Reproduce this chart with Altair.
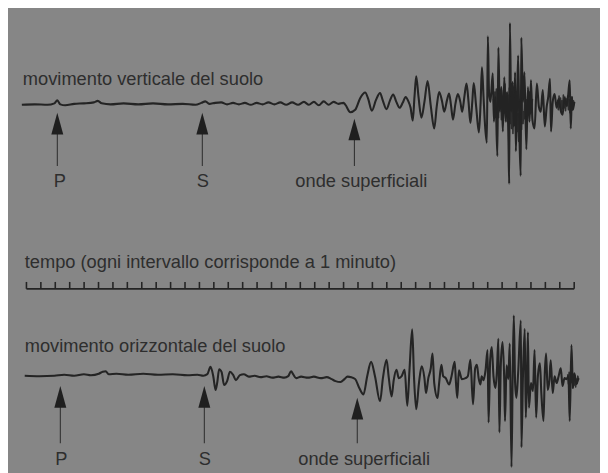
import altair as alt
import pandas as pd

# ---------------- data (time in minutes from the first tick of the time bar) ----------------
# vertical ground motion: time (min) and amplitude (positive = up)
V_T = [-0.32, 0.57, 1.46, 1.94, 2.14, 2.35, 2.69, 3.31, 3.99, 4.68, 4.95, 5.22, 5.84, 6.73, 7.76,
       8.78, 9.81, 10.84, 11.73, 12.14, 12.41, 12.68, 13.09, 13.51, 13.92, 14.33, 14.74, 15.15,
       15.56, 15.97, 16.38, 16.79, 17.20, 17.61, 18.02, 18.43, 18.84, 19.25, 19.60, 19.94, 20.28,
       20.62, 20.97, 21.31, 21.65, 22.00,
       22.13, 22.47, 22.81, 23.16, 23.50, 23.71, 23.96, 24.25, 24.53, 24.73, 24.98, 25.21, 25.44,
       25.66, 25.89, 26.10, 26.31, 26.48, 26.65, 26.80, 26.92, 27.04, 27.20, 27.40, 27.61, 27.83,
       28.05, 28.29, 28.46, 28.63, 28.84, 28.98, 29.18, 29.32, 29.45, 29.59, 29.76, 29.93, 30.10,
       30.23, 30.38, 30.53, 30.67, 30.80, 30.93, 31.03, 31.20, 31.39, 31.51, 31.60, 31.71, 31.82,
       31.94, 32.01, 32.09, 32.19, 32.35, 32.43, 32.54, 32.67, 32.74, 32.84, 32.95, 33.05, 33.15,
       33.25, 33.35, 33.44, 33.49, 33.54, 33.63, 33.73, 33.80, 33.90, 33.95, 34.04, 34.11, 34.21,
       34.29, 34.33, 34.45, 34.55, 34.68, 34.79, 34.90, 35.00, 35.10, 35.25, 35.41, 35.55, 35.68,
       35.82, 35.96, 36.09, 36.20, 36.32, 36.39, 36.51, 36.64, 36.78, 36.92, 37.05, 37.19, 37.33,
       37.46, 37.57, 37.69, 37.76, 37.84, 37.91, 38.01]
V_A = [-1, -0.5, -1, 0.5, 3.5, -0.5, -1.5, 0, 0.5, 1.5, 3, 0.5, -0.5, 0.5, -0.5,
       0.5, -0.5, 0, -1, 1, 2.5, 0, 1, 1.5, -0.5, 1, -0.5, 1,
       -1, 1, -0.5, 1.5, -0.5, 1.5, -1, 1.5, -1, 2, -1, 2, -1.5,
       2.5, -1, 2, 0, 1,
       -1, -8.5, -6, 6, 11.5, 5, -7, 4, 11, 3, -5.5, 3, 9.5,
       2, -4, 1, 7, 3, -4, -17, 7, 28, 7, -14, 2, 23,
       -2, -25, -3, 12, 2, -8, 4, 10.5, -1, -16, 0, 10, 2,
       -8, 7, 20.5, 2, -19.5, 2, 21, -3, -29, 2, 37, 7, -23,
       -39.5, 68.5, 12, 2, 31, -18, 7, -53, 57, -8, 17, -28, 27,
       -18, 12, -38, -81, 82, -8, 22, -23, 32, -48, 2, 49, -38,
       -73, 67, 2, 32, -46, 17, -18, 24, -16, -25, 20.5, -3, -8,
       14, -23, -3, 7, 25.5, -28, 2, 10, -4, 5, -6, -11, 6,
       -2, 7, 24, -25, 7, -6, 2]

# dense scribble where the vertical record turns into a dark blot
V_BLOT_T = [32.40, 32.45, 32.50, 32.55, 32.60, 32.65, 32.70, 32.75, 32.80, 32.85, 32.90, 32.95,
            33.00, 33.05, 33.10, 33.15, 33.20, 33.25, 33.30, 33.35, 33.40, 33.45, 33.50, 33.55,
            33.60, 33.65, 33.70, 33.75, 33.80, 33.85, 33.90, 33.95, 34.00, 34.05, 34.10, 34.15,
            34.20, 34.25, 34.30, 34.35, 34.40, 34.45, 34.50, 34.55, 34.60, 34.65, 34.70, 34.75,
            34.80, 34.85, 34.90, 34.95, 35.00, 35.05, 35.10,
            36.85, 36.90, 36.95, 37.00, 37.05, 37.10, 37.15, 37.20, 37.25, 37.30, 37.35, 37.40,
            37.45, 37.50, 37.55, 37.60, 37.65, 37.70, 37.75, 37.80, 37.85, 37.90, 37.95, 38.00]
V_BLOT_A = [5, -8, 12, -6, 15, -10, 8, -14, 18, -5, 10, -16, 6, -12, 14, -9, 20, -7, 11, -18,
            9, -13, 16, -20, 7, -25, 12, -30, 5, -22, 18, -35, 8, -28, -10, -38, 2, -30, -12,
            -26, 6, -20, -8, -15, 10, -12, 4, -18, 8, -6, 12, -10, 3, -8, 5,
            4, -6, 8, -3, 6, -8, 3, -5, 9, -4, 7, -7, 5, -2, 8, -6, 4, -9, 6, -3, 7, -5, 3, 0]
V_BLOT_SEG = [0] * 55 + [1] * 24

# horizontal ground motion: time (min) and amplitude
H_T = [-0.12, 0.91, 1.94, 2.62, 3.31, 3.99, 4.47, 5.02, 5.29, 5.50, 5.70, 6.25, 7.07, 8.10, 9.12,
       10.15, 11.18, 11.86, 12.27, 12.55, 12.77, 12.96, 13.12, 13.23, 13.37, 13.54, 13.71, 13.92,
       14.12, 14.33, 14.53, 14.81, 15.08, 15.42, 15.83, 16.24, 16.65, 17.06, 17.48, 17.89, 18.16,
       18.36, 18.50, 18.71, 19.05, 19.53, 19.94, 20.42, 20.83, 21.17, 21.44, 21.79, 22.06, 22.27,
       22.54, 22.81, 23.09, 23.38, 23.64, 23.91, 24.18, 24.53, 24.73, 24.98, 25.14, 25.33, 25.48,
       25.67, 25.83, 26.03, 26.24, 26.42, 26.58, 26.76, 26.89, 27.04, 27.23, 27.42, 27.61, 27.72,
       27.88, 28.05, 28.17, 28.29, 28.52, 28.63, 28.79, 28.91, 29.09, 29.32, 29.49, 29.71, 29.80,
       29.89, 30.00, 30.21, 30.46, 30.62, 30.80, 30.98, 31.13, 31.25, 31.37, 31.49, 31.58, 31.71,
       31.85, 31.99, 32.06, 32.17, 32.28, 32.40, 32.54, 32.64, 32.74, 32.81, 32.91, 33.03, 33.15,
       33.20, 33.31, 33.43, 33.53, 33.65, 33.73, 33.81, 33.90, 33.99, 34.11, 34.30, 34.34, 34.45,
       34.57, 34.64, 34.73, 34.79, 34.86, 35.00, 35.14, 35.25, 35.36, 35.48, 35.62, 35.72, 35.87,
       35.96, 36.05, 36.16, 36.28, 36.37, 36.51, 36.64, 36.78, 36.92, 37.07, 37.19, 37.33, 37.46,
       37.60, 37.69, 37.81, 37.91, 38.01, 38.15, 38.29]
H_A = [0.5, 0, 0.5, 1.5, 0.5, 2, 1, 2.5, 4.5, 5, 2, 2.5, 1.5, 2.5, 1.5,
       2, 1, 1.5, 0.5, 2, 9.5, 0, -14, -7, 7, 4, -9, -5,
       4.5, 1.5, -4, 1, 2, -0.5, 0.5, -1, 0, -1.5, -0.5, -1.5, 0,
       5, 2, -2, -0.5, -1.5, -0.5, -2, -1, -3, -5, -6, -3, -0.5,
       -1, -3, -12, -18.5, 0, 14.5, 0, -25.5, -2, 16.5, -2, -20.5, -4,
       6.5, -2, 0, 6.5, -30, 8, 47.5, -2, -33.5, -7, 10, -2, -17,
       -2, 8, 23, -7, -22, -7, 11.5, 0, -2, -8.5, 0, 14.5, -7,
       -22, 6, -3, -2, 0, 16.5, -28.5, 8, 11.5, -2, -8.5, 0, -4,
       6, 26.5, -47, 16, 29.5, 0, -12, 6, 38, -57, 12, 34.5, -7,
       -45.5, 11, -3, 33, -92, -2, 61.5, -7, -22, 3, 56.5, -72, 3,
       48, -42, -2, 44.5, -32, -7, -15, 26.5, -42, 0, 13, -17, -45.5,
       3, 23, -14, -4, 16, -17, 0, -7, 0, 8, -10, -2, -3,
       0, -45.5, 31.5, -12, 3, -8, -2]

# dark blot at the end of the horizontal record
H_BLOT_T = [37.55, 37.60, 37.65, 37.70, 37.75, 37.80, 37.85, 37.90, 37.95, 38.00, 38.05, 38.10,
            38.15, 38.20, 38.25, 38.30]
H_BLOT_A = [2, -8, 4, -10, 0, -6, 3, -12, -2, -9, 1, -11, -3, -7, 0, -4]

PHASES = ["P", "S", "onde superficiali"]
V_ARRIVALS = [2.14, 12.20, 22.75]      # arrow times on the vertical record (min)
H_ARRIVALS = [2.35, 12.34, 22.95]      # arrow times on the horizontal record (min)
TIME_TICKS = list(range(0, 39))        # one tick per minute
TITLES = ["movimento verticale del suolo",
          "tempo (ogni intervallo corrisponde a 1 minuto)",
          "movimento orizzontale del suolo"]

# ---------------- layout (page pixel units for vertical placement) ----------------
W, H = 600, 465
XDOM = [-1.28, 39.79]
YDOM = [473, 8]
V_BASE, H_BASE = 102, 378
V_TIPS, H_TIPS = [111, 111, 117], [388, 388, 400]
HEAD = 22
V_STEM_END, H_STEM_END = 165, 446
V_LABEL_T, H_LABEL_T = [2.31, 12.23, 23.23], [2.42, 12.38, 23.43]
V_LABEL_Y, H_LABEL_Y = 186, 468
TITLE_T = [-0.25, -0.12, -0.12]
TITLE_Y = [83, 268, 353]
BAR_Y, TICK_TOP = 289.5, 282.5

INK = "#242424"
TXT = "#2e2e2e"
BG = "#868686"
FONT = "Liberation Sans"

xs = alt.Scale(domain=XDOM, nice=False, zero=False)
ys = alt.Scale(domain=YDOM, nice=False, zero=False)

def X(f="t"):
    return alt.X(f"{f}:Q", scale=xs, axis=None)

def Y(f="y"):
    return alt.Y(f"{f}:Q", scale=ys, axis=None)

traces = pd.concat([
    pd.DataFrame({"t": V_T, "y": [V_BASE - a for a in V_A], "trace": "vert"}),
    pd.DataFrame({"t": H_T, "y": [H_BASE - a for a in H_A], "trace": "oriz"}),
])
blots = pd.concat([
    pd.DataFrame({"t": V_BLOT_T, "y": [V_BASE - a for a in V_BLOT_A],
                  "trace": [f"v{s}" for s in V_BLOT_SEG]}),
    pd.DataFrame({"t": H_BLOT_T, "y": [H_BASE - a for a in H_BLOT_A], "trace": "h"}),
])

line = alt.Chart(traces).mark_line(
    color=INK, strokeWidth=2.1, strokeJoin="round", interpolate="monotone"
).encode(x=X(), y=Y(), detail="trace:N")

blot = alt.Chart(blots).mark_line(
    color=INK, strokeWidth=1.6, strokeJoin="round", opacity=0.9
).encode(x=X(), y=Y(), detail="trace:N")

arrows = pd.DataFrame({
    "t": V_ARRIVALS + H_ARRIVALS,
    "tip": V_TIPS + H_TIPS,
    "end": [V_STEM_END] * 3 + [H_STEM_END] * 3,
})
arrows["head"] = arrows["tip"] + HEAD / 2
arrows["base"] = arrows["tip"] + HEAD - 1

heads = alt.Chart(arrows).mark_point(
    shape="M0,-1L0.55,1L-0.55,1Z", filled=True, size=HEAD * HEAD, color="#1f1f1f", opacity=1
).encode(x=X(), y=Y("head"))

stems = alt.Chart(arrows).mark_rule(color="#2a2a2a", strokeWidth=1).encode(
    x=X(), y=Y("base"), y2="end:Q")

labels = pd.DataFrame({
    "t": V_LABEL_T + H_LABEL_T,
    "y": [V_LABEL_Y] * 3 + [H_LABEL_Y] * 3,
    "txt": PHASES + PHASES,
})
label_marks = alt.Chart(labels).mark_text(
    align="center", baseline="alphabetic", font=FONT, fontSize=18.5, color=TXT
).encode(x=X(), y=Y(), text="txt:N")

titles = pd.DataFrame({"t": TITLE_T, "y": TITLE_Y, "txt": TITLES})
title_marks = alt.Chart(titles).mark_text(
    align="left", baseline="alphabetic", font=FONT, fontSize=18.5, color=TXT
).encode(x=X(), y=Y(), text="txt:N")

bar = pd.DataFrame({"t": [TIME_TICKS[0]], "t2": [TIME_TICKS[-1]], "y": [BAR_Y]})
bar_mark = alt.Chart(bar).mark_rule(color=INK, strokeWidth=1.8).encode(
    x=X(), x2="t2:Q", y=Y())

ticks = pd.DataFrame({"t": TIME_TICKS, "y": BAR_Y, "y2": TICK_TOP})
tick_marks = alt.Chart(ticks).mark_rule(color=INK, strokeWidth=1.6).encode(
    x=X(), y=Y(), y2="y2:Q")

chart = alt.layer(line, blot, stems, heads, bar_mark, tick_marks, label_marks, title_marks).properties(
    width=W, height=H,
    autosize=alt.AutoSizeParams(type="fit", contains="padding"),
    padding=0, background=BG,
).configure_view(stroke=None)

chart.save("out.html", embed_options={"renderer": "svg", "actions": False})
